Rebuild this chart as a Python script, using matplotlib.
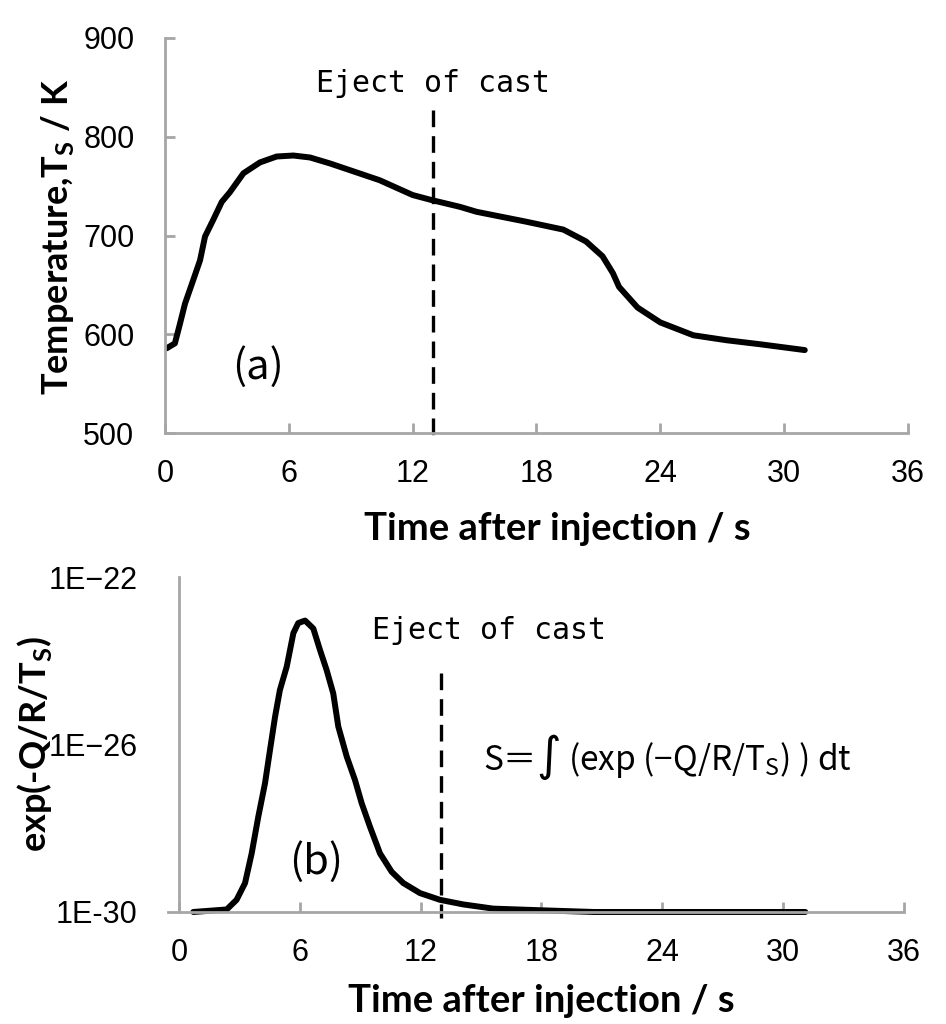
import matplotlib
matplotlib.use("Agg")
import matplotlib.pyplot as plt
import numpy as np

# (a) surface temperature vs time
t_a = [0.08, 0.48, 0.73, 0.97, 1.37, 1.7, 1.94, 2.34, 2.75, 3.15, 3.8, 4.6, 5.41,
       6.22, 7.03, 7.99, 8.7, 10.4, 12.0, 12.9, 14.3, 15.1, 17.5, 19.3, 20.4, 21.2,
       21.7, 22.0, 22.9, 24.0, 25.6, 27.2, 28.8, 31.0]
temp_a = [585.8, 590.8, 611, 631, 655, 675, 699, 716, 734, 744, 763, 774, 780,
          781, 779, 773, 768, 756, 741, 736, 729, 724, 714, 706, 694, 679,
          662, 648, 627, 612, 599, 594, 590, 584]

# (b) exp(-Q/R/Ts), stored as log10 values
t_b = [0.71, 2.37, 2.86, 3.28, 3.61, 3.94, 4.27, 4.52, 4.77, 5.01, 5.35, 5.68, 5.92,
       6.26, 6.67, 7.0, 7.33, 7.66, 7.91, 8.33, 8.74, 9.07, 9.48, 9.98, 10.56,
       11.14, 11.97, 12.96, 14.12, 15.6, 18.0, 20.6, 31.1]
log_b = [-30.0, -29.94, -29.71, -29.31, -28.6, -27.72, -26.93, -26.13, -25.34, -24.7,
         -24.14, -23.34, -23.1, -23.04, -23.23, -23.74, -24.22, -24.78, -25.57,
         -26.29, -26.85, -27.4, -27.96, -28.6, -29.04, -29.31, -29.55, -29.71,
         -29.82, -29.92, -29.96, -30.0, -30.0]

t_eject = 13.0
xticks = [0, 6, 12, 18, 24, 30, 36]
yticks_a = [500, 600, 700, 800, 900]
yticks_b = [1e-30, 1e-26, 1e-22]
yticklabels_b = ['1E-30', '1E\u221226', '1E\u221222']

gray = '#a6a6a6'
cjk = ['Noto Sans CJK JP', 'DejaVu Sans']

fig = plt.figure(figsize=(9.46, 10.24), dpi=100)
ax1 = fig.add_axes([0.1744, 0.5771, 0.7854, 0.3858])
ax2 = fig.add_axes([0.1892, 0.1094, 0.7664, 0.3271])

for ax in (ax1, ax2):
    for s in ('top', 'right'):
        ax.spines[s].set_visible(False)
    for s in ('left', 'bottom'):
        ax.spines[s].set_color(gray)
        ax.spines[s].set_linewidth(2)
    ax.set_xlim(0, 36)
    ax.set_xticks(xticks)
    ax.tick_params(axis='x', direction='in', length=7, width=2, color=gray,
                   labelsize=22, pad=19)
    for lab in ax.get_xticklabels():
        lab.set_fontfamily('Liberation Sans')

# ---- panel (a)
ax1.plot(t_a, temp_a, color='black', lw=4.3, solid_capstyle='round')
ax1.set_ylim(500, 900)
ax1.set_yticks(yticks_a)
ax1.tick_params(axis='y', direction='in', length=7, width=2, color=gray,
                labelsize=22, pad=22)
for lab in ax1.get_yticklabels():
    lab.set_fontfamily('Liberation Sans')
ax1.plot([t_eject, t_eject], [827, 496], color='black', lw=2.4,
         dashes=(5, 2.7), clip_on=False)
ax1.text(t_eject, 854, 'Eject of cast', ha='center', va='center',
         fontsize=21.5, family='DejaVu Sans Mono')
ax1.text(4.5, 567, '(a)', ha='center', va='center', fontsize=30, family=cjk)
ax1.set_xlabel('Time after injection / s', fontsize=27.5, fontweight='bold',
               family='Lato', va='top')
ax1.xaxis.set_label_coords(0.528, -0.2)
ax1.set_ylabel(r'Temperature,T$_\mathregular{S}$ / K', fontsize=26,
               fontweight='bold', family='Lato')
ax1.yaxis.set_label_coords(-0.12, 0.496)

# ---- panel (b)
s_b = np.power(10.0, log_b)
ax2.semilogy(t_b, s_b, color='black', lw=4.3, solid_capstyle='round', clip_on=False)
ax2.set_ylim(1e-30, 1e-22)
ax2.set_yticks(yticks_b)
ax2.set_yticklabels(yticklabels_b)
ax2.minorticks_off()
ax2.tick_params(axis='y', length=0, labelsize=22, pad=30)
for lab in ax2.get_yticklabels():
    lab.set_fontfamily('Liberation Sans')
ax2.spines['bottom'].set_bounds(-0.55, 36)
ax2.plot([t_eject, t_eject], [10 ** -24.3, 10 ** -30.15], color='black', lw=2.4,
         dashes=(5, 2.7), clip_on=False)
ax2.text(t_eject + 2.4, 10 ** -23.28, 'Eject of cast', ha='center', va='center',
         fontsize=21.5, family='DejaVu Sans Mono')
ax2.text(6.8, 10 ** -28.8, '(b)', ha='center', va='center', fontsize=30, family=cjk)
ax2.text(15.1, 10 ** -26.3,
         '\u0053\uff1d\u222b (exp (\u2212Q/R/T$_\\mathregular{S}$) ) dt',
         ha='left', va='center', fontsize=24, family='Noto Sans CJK JP')
ax2.set_xlabel('Time after injection / s', fontsize=27.5, fontweight='bold',
               family='Lato', va='top')
ax2.xaxis.set_label_coords(0.5, -0.215)
ax2.set_ylabel(r'exp(-Q/R/T$_\mathregular{S}$)', fontsize=26,
               fontweight='bold', family='Lato')
ax2.yaxis.set_label_coords(-0.172, 0.5)

fig.savefig('out.png', dpi=100)
